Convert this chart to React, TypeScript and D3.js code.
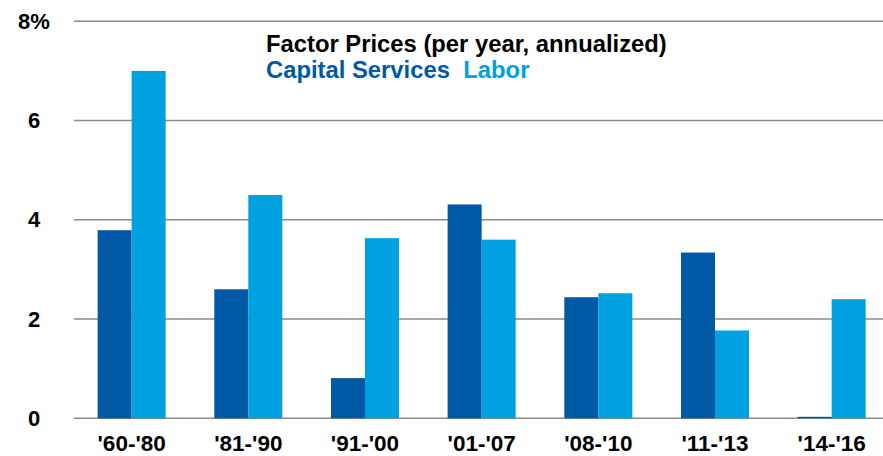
import React from "react";
import * as d3 from "d3";

const categories = ["'60-'80", "'81-'90", "'91-'00", "'01-'07", "'08-'10", "'11-'13", "'14-'16"];
const capitalServices = [3.79, 2.6, 0.81, 4.31, 2.44, 3.34, 0.03];
const labor = [7.0, 4.5, 3.63, 3.6, 2.52, 1.77, 2.4];
const yTicks = [0, 2, 4, 6, 8];
const seriesNames = ["Capital Services", "Labor"];

const W = 883;
const H = 456;
const CAP = "#0059A4";
const LAB = "#00A1E0";
const FONT = "'Liberation Sans', Arial, sans-serif";

export default function App() {
  const y = d3.scaleLinear().domain([0, 8]).range([418.3, 21.3]);
  const x = d3
    .scaleBand<string>()
    .domain(categories)
    .range([73.3, 890])
    .paddingInner(0.417)
    .paddingOuter(0.2085);
  const inner = d3.scaleBand<string>().domain(seriesNames).range([0, x.bandwidth()]);
  const series = [capitalServices, labor];
  const colors = [CAP, LAB];

  return (
    <svg
      width={W}
      height={H}
      style={{ position: "absolute", left: 0, top: 0, display: "block", background: "#fff" }}
      fontFamily={FONT}
    >
      {yTicks.map((t) => (
        <g key={t}>
          <line x1={74} x2={W} y1={y(t)} y2={y(t)} stroke="#8a8a8a" strokeWidth={1.6} />
          <text
            x={34}
            y={y(t) + 7.5}
            textAnchor="middle"
            fontSize={22}
            fontWeight="bold"
            fill="#000"
          >
            {t === 8 ? "8%" : String(t)}
          </text>
        </g>
      ))}
      {categories.map((c, i) => (
        <g key={c} transform={`translate(${x(c)},0)`}>
          {series.map((s, j) => (
            <rect
              key={j}
              x={inner(seriesNames[j])}
              y={y(s[i])}
              width={inner.bandwidth()}
              height={y(0) - y(s[i])}
              fill={colors[j]}
            />
          ))}
          <text
            x={x.bandwidth() / 2}
            y={451.2}
            textAnchor="middle"
            fontSize={22.5}
            fontWeight="bold"
            fill="#000"
          >
            {c}
          </text>
        </g>
      ))}
      <text x={266} y={51.7} fontSize={23.8} fontWeight="bold" fill="#000">
        Factor Prices (per year, annualized)
      </text>
      <text x={266} y={77.7} fontSize={23.8} fontWeight="bold">
        <tspan fill={CAP}>{seriesNames[0]}</tspan>
        <tspan x={463.3} fill={LAB}>{seriesNames[1]}</tspan>
      </text>
    </svg>
  );
}
